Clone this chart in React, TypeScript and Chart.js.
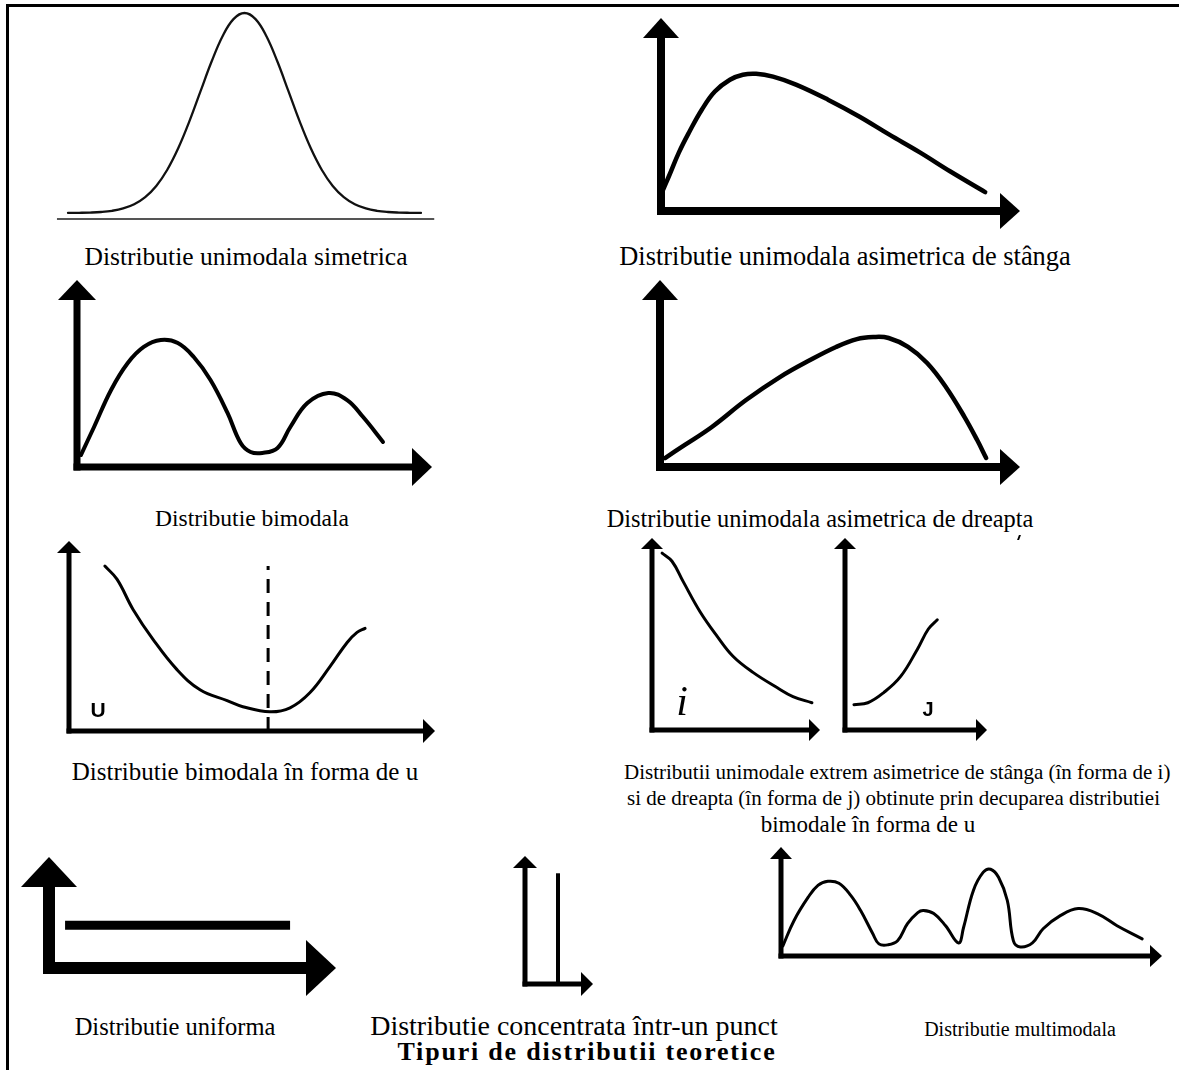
import React, { useEffect, useRef } from "react";
import { Chart, registerables } from "chart.js";
Chart.register(...registerables);

// ---------- DATA ----------
const normalZ = [-4, -3.75, -3.5, -3.25, -3, -2.75, -2.5, -2.25, -2, -1.75, -1.5, -1.25, -1, -0.75, -0.5, -0.25, 0, 0.25, 0.5, 0.75, 1, 1.25, 1.5, 1.75, 2, 2.25, 2.5, 2.75, 3, 3.25, 3.5, 3.75, 4];
const normalDensity = [0.0001, 0.0004, 0.0009, 0.002, 0.0044, 0.0091, 0.0175, 0.0317, 0.054, 0.0863, 0.1295, 0.1826, 0.242, 0.3011, 0.3521, 0.3867, 0.3989, 0.3867, 0.3521, 0.3011, 0.242, 0.1826, 0.1295, 0.0863, 0.054, 0.0317, 0.0175, 0.0091, 0.0044, 0.002, 0.0009, 0.0004, 0.0001];
const normalBaseX = [-4.25, 4.3];
const normalBaseY = [-0.012, -0.012];

const leftSkewX = [0.3, 2.2, 5.0, 7.8, 11.4, 15.0, 19.2, 22.8, 26.5, 31.2, 37.6, 46.5, 55.2, 63.5, 72.1, 80.5, 90.3];
const leftSkewY = [9.8, 18.0, 30.4, 40.7, 52.6, 61.9, 68.0, 70.6, 71.1, 69.6, 65.5, 57.7, 49.0, 39.7, 30.4, 20.6, 9.8];

const bimodalX = [1.1, 4.8, 9.6, 14.3, 18.8, 23.6, 28.4, 32.9, 37.6, 42.4, 46.1, 48.9, 52.2, 56.5, 60.1, 64.9, 70.8, 76.1, 80.6, 86.2];
const bimodalY = [6.4, 21.4, 41.2, 55.6, 64.2, 67.9, 66.3, 58.8, 46.5, 28.9, 12.8, 8.0, 7.5, 10.2, 21.4, 34.2, 39.6, 35.8, 26.7, 13.4];

const rightSkewX = [1.4, 6.9, 14.4, 23.9, 33.3, 41.7, 48.9, 54.7, 59.2, 63.5, 68.9, 74.2, 79.4, 84.6, 88.1, 90.6];
const rightSkewY = [4.8, 11.8, 21.4, 35.8, 48.1, 57.2, 64.2, 68.4, 69.5, 69.0, 64.2, 55.6, 42.8, 26.7, 14.4, 4.8];

const uShapeX = [9.8, 13.1, 17.5, 23.0, 29.5, 35.8, 43.2, 47.5, 54.9, 60.4, 65.8, 71.3, 76.0, 78.7, 80.9];
const uShapeY = [86.8, 79.9, 64.0, 48.1, 32.3, 21.7, 16.0, 12.8, 10.1, 12.2, 20.1, 33.9, 46.6, 51.9, 54.0];
const uModeX = [54.4, 54.4];
const uModeY = [0, 86.8];

const iShapeX = [6.0, 11.9, 18.5, 28.6, 38.7, 48.2, 60.1, 74.4, 83.9, 95.2];
const iShapeY = [92.1, 87.9, 77.4, 61.6, 48.9, 38.4, 30.0, 22.1, 17.4, 14.2];

const jShapeX = [6.3, 16.1, 27.3, 39.2, 51.0, 58.7, 65.0];
const jShapeY = [13.2, 14.2, 19.5, 27.9, 42.1, 52.6, 57.4];

const uniformX = [5.6, 84.0];
const uniformY = [38.5, 38.5];

const pointX = [48.5, 48.5];
const pointY = [0, 86.5];

const multiX = [0.5, 3.4, 7.1, 9.7, 12.3, 15.2, 18.3, 20.9, 24.1, 25.7, 28.0, 30.6, 33.2, 35.9, 37.4, 40.1, 43.2, 46.6, 47.9, 50.5, 53.1, 55.0, 57.1, 59.4, 61.0, 62.8, 66.0, 68.8, 73.3, 78.0, 83.0, 88.2, 94.8];
const multiY = [9.3, 32.4, 53.7, 64.8, 68.5, 66.7, 55.6, 41.7, 20.4, 11.1, 10.2, 13.9, 29.6, 39.8, 41.7, 38.9, 27.8, 12.0, 25.9, 60.2, 76.9, 79.6, 72.2, 50.9, 13.9, 8.3, 12.0, 25.0, 37.0, 43.5, 38.9, 27.8, 15.7];

const captionSymmetric = "Distributie unimodala simetrica";
const captionLeft = "Distributie unimodala asimetrica de stânga";
const captionBimodal = "Distributie bimodala";
const captionRight = "Distributie unimodala asimetrica de dreapta";
const captionU = "Distributie bimodala în forma de u";
const captionIJ = [
  "Distributii unimodale extrem asimetrice de stânga (în forma de i)",
  "si de dreapta (în forma de j) obtinute prin decuparea distributiei",
  "bimodale în forma de u",
];
const captionUniform = "Distributie uniforma";
const captionPoint = "Distributie concentrata într-un punct";
const captionMulti = "Distributie multimodala";
const figureTitle = "Tipuri de distributii teoretice";

// ---------- CHART MACHINERY ----------
type Series = { x: number[]; y: number[]; w: number; color?: string; dash?: number[]; smooth?: boolean; cap?: string };
type AxisStyle = { w: number; len: number; half: number };
type PanelSpec = {
  box: [number, number, number, number];
  xCal: [number, number, number, number];
  yCal: [number, number, number, number];
  series: Series[];
  axis?: AxisStyle;
};

const arrowAxes = {
  id: "arrowAxes",
  beforeDatasetsDraw(chart: any, _args: any, opts: any) {
    if (!opts || !opts.w) return;
    const { ctx } = chart;
    const xs = chart.scales.x;
    const ys = chart.scales.y;
    const x0 = xs.getPixelForValue(0);
    const y0 = ys.getPixelForValue(0);
    const xt = xs.getPixelForValue(100);
    const yt = ys.getPixelForValue(100);
    const { w, len, half } = opts;
    ctx.save();
    ctx.fillStyle = "#000";
    ctx.fillRect(x0 - w / 2, yt + len - 1, w, y0 + w / 2 - (yt + len - 1));
    ctx.fillRect(x0 - w / 2, y0 - w / 2, xt - len + 1 - (x0 - w / 2), w);
    ctx.beginPath();
    ctx.moveTo(x0, yt);
    ctx.lineTo(x0 - half, yt + len);
    ctx.lineTo(x0 + half, yt + len);
    ctx.closePath();
    ctx.fill();
    ctx.beginPath();
    ctx.moveTo(xt, y0);
    ctx.lineTo(xt - len, y0 - half);
    ctx.lineTo(xt - len, y0 + half);
    ctx.closePath();
    ctx.fill();
    ctx.restore();
  },
};

function calX(start: number, size: number, c: number[]) {
  const [v1, p1, v2, p2] = c;
  const unit = (p2 - p1) / (v2 - v1);
  const min = v1 - (p1 - start) / unit;
  return { min, max: min + size / unit };
}
function calY(top: number, size: number, c: number[]) {
  const [v1, p1, v2, p2] = c;
  const unit = (p1 - p2) / (v2 - v1);
  const min = v1 - (top + size - p1) / unit;
  return { min, max: min + size / unit };
}

function axisPanel(origin: [number, number], tip: [number, number], axis: AxisStyle, series: Series[]): PanelSpec {
  const [ox, oy] = origin;
  const [xt, yt] = tip;
  const pad = Math.max(axis.half, axis.w) + 6;
  return {
    box: [ox - pad, yt - 6, xt - ox + pad + 6, oy - yt + pad + 6],
    xCal: [0, ox, 100, xt],
    yCal: [0, oy, 100, yt],
    series,
    axis,
  };
}

function Panel({ spec }: { spec: PanelSpec }) {
  const ref = useRef<HTMLCanvasElement>(null);
  const [l, t, w, h] = spec.box;
  useEffect(() => {
    const xr = calX(l, w, spec.xCal);
    const yr = calY(t, h, spec.yCal);
    const chart = new Chart(ref.current as HTMLCanvasElement, {
      type: "scatter",
      data: {
        datasets: spec.series.map((s) => ({
          data: s.x.map((x, i) => ({ x, y: s.y[i] })),
          showLine: true,
          borderColor: s.color || "#000",
          backgroundColor: s.color || "#000",
          borderWidth: s.w,
          borderDash: s.dash || [],
          borderCapStyle: (s.cap || "round") as any,
          borderJoinStyle: "round" as any,
          pointRadius: 0,
          pointHoverRadius: 0,
          cubicInterpolationMode: "default",
          tension: s.smooth === false ? 0 : 0.4,
          fill: false,
          clip: false as any,
        })),
      },
      options: {
        responsive: false,
        maintainAspectRatio: false,
        animation: false,
        events: [],
        layout: { padding: 0 },
        plugins: {
          legend: { display: false },
          tooltip: { enabled: false },
          arrowAxes: spec.axis ? spec.axis : false,
        } as any,
        scales: {
          x: { type: "linear", display: false, min: xr.min, max: xr.max },
          y: { type: "linear", display: false, min: yr.min, max: yr.max },
        },
      },
      plugins: [arrowAxes as any],
    });
    return () => chart.destroy();
  }, []);
  return (
    <canvas
      ref={ref}
      width={w}
      height={h}
      style={{ position: "absolute", left: l, top: t, width: w, height: h }}
    />
  );
}

const panels: PanelSpec[] = [
  {
    box: [40, 5, 410, 225],
    xCal: [-4, 68, 4, 421],
    yCal: [0, 213, 0.3989, 13],
    series: [
      { x: normalZ, y: normalDensity, w: 2.3, color: "#111" },
      { x: normalBaseX, y: normalBaseY, w: 2, color: "#555", smooth: false, cap: "butt" },
    ],
  },
  axisPanel([661, 211], [1020, 18], { w: 8, len: 20, half: 18 }, [{ x: leftSkewX, y: leftSkewY, w: 4.5 }]),
  axisPanel([77, 467], [432, 280], { w: 7, len: 20, half: 19 }, [{ x: bimodalX, y: bimodalY, w: 4 }]),
  axisPanel([660, 467], [1020, 280], { w: 8, len: 20, half: 18 }, [{ x: rightSkewX, y: rightSkewY, w: 4.5 }]),
  axisPanel([69, 731], [435, 541], { w: 5, len: 12, half: 12 }, [
    { x: uShapeX, y: uShapeY, w: 3 },
    { x: uModeX, y: uModeY, w: 3, dash: [14, 9], smooth: false, cap: "butt" },
  ]),
  axisPanel([652, 730], [820, 538], { w: 5, len: 11, half: 11 }, [{ x: iShapeX, y: iShapeY, w: 3 }]),
  axisPanel([845, 730], [987, 538], { w: 5, len: 11, half: 11 }, [{ x: jShapeX, y: jShapeY, w: 3 }]),
  axisPanel([49, 968], [336, 857], { w: 12, len: 30, half: 28 }, [
    { x: uniformX, y: uniformY, w: 9, smooth: false, cap: "butt" },
  ]),
  axisPanel([525, 984], [593, 856], { w: 5, len: 12, half: 12 }, [
    { x: pointX, y: pointY, w: 4, smooth: false, cap: "butt" },
  ]),
  axisPanel([781, 956], [1162, 847], { w: 5, len: 12, half: 11 }, [{ x: multiX, y: multiY, w: 3 }]),
];

const SERIF = '"Liberation Serif", "Times New Roman", serif';
const SANS = '"Liberation Sans", Arial, sans-serif';

function Caption({ text, cx, left, base, size = 24, bold = false, spacing = 0 }: any) {
  const pos = left !== undefined ? { left, textAlign: "left" as const } : { left: cx - 400, width: 800, textAlign: "center" as const };
  return (
    <div
      style={{
        position: "absolute",
        ...pos,
        top: base - Math.round(size * 0.84),
        fontFamily: SERIF,
        fontSize: size,
        lineHeight: 1,
        fontWeight: bold ? 700 : 400,
        letterSpacing: spacing,
        whiteSpace: "nowrap",
        color: "#000",
      }}
    >
      {text}
    </div>
  );
}

function Glyph({ text, cx, base, size, family, bold = false, italic = false }: any) {
  return (
    <div
      style={{
        position: "absolute",
        left: cx - 30,
        width: 60,
        top: base - Math.round(size * 0.84),
        textAlign: "center",
        fontFamily: family,
        fontSize: size,
        lineHeight: 1,
        fontWeight: bold ? 700 : 400,
        fontStyle: italic ? "italic" : "normal",
        color: "#000",
      }}
    >
      {text}
    </div>
  );
}

export default function App() {
  return (
    <div style={{ position: "absolute", left: 0, top: 0, width: 1179, height: 1070, background: "#fff", overflow: "hidden" }}>
      <div style={{ position: "absolute", left: 6, top: 4, width: 3, height: 1066, background: "#000" }} />
      <div style={{ position: "absolute", left: 6, top: 4, width: 1173, height: 3, background: "#000" }} />
      {panels.map((p, i) => (
        <Panel key={i} spec={p} />
      ))}
      <div style={{ position: "absolute", left: 1018, top: 535, width: 2, height: 5, background: "#000", transform: "skewX(-20deg)" }} />
      <Glyph text="U" cx={98} base={717} size={21} family={SANS} bold />
      <Glyph text="i" cx={682} base={715} size={42} family={SERIF} italic />
      <Glyph text="J" cx={928} base={716} size={20} family={SANS} bold />
      <Caption text={captionSymmetric} cx={246} base={265} size={25.5} />
      <Caption text={captionLeft} cx={845} base={265} size={26.4} />
      <Caption text={captionBimodal} cx={252} base={527} size={23.5} />
      <Caption text={captionRight} cx={820} base={527} size={24.4} />
      <Caption text={captionU} cx={245} base={780} size={25} />
      <Caption text={captionIJ[0]} left={624} base={780} size={21} />
      <Caption text={captionIJ[1]} left={627} base={806} size={21} />
      <Caption text={captionIJ[2]} cx={868} base={832} size={23} />
      <Caption text={captionUniform} cx={175} base={1036} size={24.5} />
      <Caption text={captionPoint} cx={574} base={1036} size={28} />
      <Caption text={captionMulti} cx={1020} base={1036} size={20} />
      <Caption text={figureTitle} cx={587} base={1061} size={26} bold spacing={1.8} />
    </div>
  );
}
